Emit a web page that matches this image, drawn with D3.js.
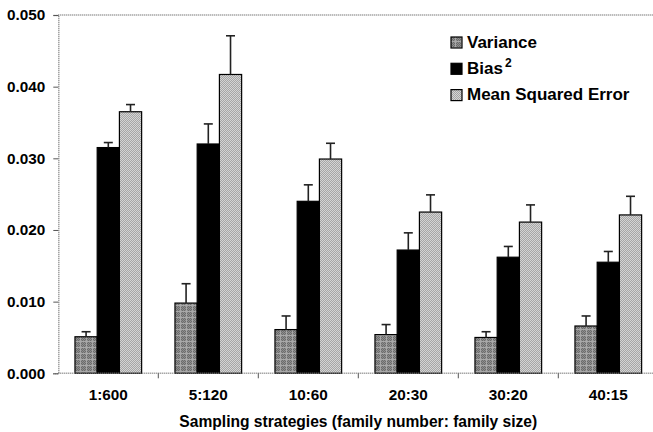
<!DOCTYPE html>
<html><head><meta charset="utf-8">
<script src="https://cdn.jsdelivr.net/npm/d3@7"></script>
<style>html,body{margin:0;padding:0;background:#fff;}svg{display:block;}</style>
</head><body>
<svg id="c" width="653" height="432"></svg>
<script>
const categories = ["1:600","5:120","10:60","20:30","30:20","40:15"];
const seriesNames = ["Variance","Bias2","Mean Squared Error"];
const variance    = [0.0051, 0.0098, 0.0061, 0.0054, 0.0050, 0.0066];
const varianceErr = [0.0058, 0.0125, 0.0080, 0.0068, 0.0058, 0.0080];
const bias2       = [0.0315, 0.0320, 0.0240, 0.0172, 0.0162, 0.0155];
const bias2Err    = [0.0322, 0.0348, 0.0263, 0.0196, 0.0177, 0.0170];
const mse         = [0.0365, 0.0417, 0.0299, 0.0225, 0.0211, 0.0221];
const mseErr      = [0.0375, 0.0471, 0.0321, 0.0249, 0.0235, 0.0247];
const yTicks = [0, 0.01, 0.02, 0.03, 0.04, 0.05];
const xTitle = "Sampling strategies (family number: family size)";

const svg = d3.select("#c");
const font = "'Liberation Sans', Arial, sans-serif";
const pLeft = 58.3, pTop = 15, pBottom = 373.3, pRight = 658.3;

const defs = svg.append("defs");
// Variance pattern: dark gray hatch with light grid
const pv = defs.append("pattern").attr("id","pv").attr("patternUnits","userSpaceOnUse").attr("width",6).attr("height",6);
pv.append("rect").attr("width",6).attr("height",6).attr("fill","#6a6a6a");
for (let i=0;i<6;i++){ for(let j=0;j<6;j++){ if((i+j)%2===0) pv.append("rect").attr("x",i).attr("y",j).attr("width",1).attr("height",1).attr("fill","#909090"); } }
pv.append("rect").attr("x",0).attr("y",5).attr("width",6).attr("height",1).attr("fill","#a8a8a8");
pv.append("rect").attr("x",5).attr("y",0).attr("width",1).attr("height",6).attr("fill","#a8a8a8");
// MSE pattern: light checker
const pm = defs.append("pattern").attr("id","pm").attr("patternUnits","userSpaceOnUse").attr("width",2).attr("height",2);
pm.append("rect").attr("width",2).attr("height",2).attr("fill","#d6d6d6");
pm.append("rect").attr("x",0).attr("y",0).attr("width",1).attr("height",1).attr("fill","#a4a4a4");
pm.append("rect").attr("x",1).attr("y",1).attr("width",1).attr("height",1).attr("fill","#a4a4a4");

const fills = ["url(#pv)", "#000", "url(#pm)"];
const vals = [variance, bias2, mse];
const errs = [varianceErr, bias2Err, mseErr];

const x0 = d3.scaleBand().domain(categories).range([pLeft, pRight]).paddingInner(1/3).paddingOuter(1/6);
const x1 = d3.scaleBand().domain(seriesNames).range([0, x0.bandwidth()]);
const y = d3.scaleLinear().domain([0, 0.05]).range([pBottom, pTop]);

// top border dotted
svg.append("line").attr("x1",pLeft).attr("x2",pRight).attr("y1",y(0.05)).attr("y2",y(0.05))
  .attr("stroke","#808080").attr("stroke-width",1.5).attr("stroke-dasharray","1 1");

// y axis
const yAxis = d3.axisLeft(y).tickValues(yTicks).tickFormat(d3.format(".3f")).tickSize(5).tickPadding(8);
const gy = svg.append("g").attr("transform",`translate(${pLeft},0)`).call(yAxis);
gy.select(".domain").attr("stroke","#808080").attr("stroke-width",1.5).attr("stroke-dasharray","1 1");
gy.selectAll(".tick line").attr("stroke","#555");
gy.selectAll(".tick text").attr("font-family",font).attr("font-weight","bold").attr("font-size",15.3).attr("fill","#000");

// bars
const groups = svg.append("g").selectAll("g").data(categories).join("g")
  .attr("transform", c => `translate(${x0(c)},0)`);
seriesNames.forEach((s, si) => {
  groups.append("rect")
    .attr("x", x1(s)).attr("width", x1.bandwidth())
    .attr("y", (c, i) => y(vals[si][i])).attr("height", (c, i) => y(0) - y(vals[si][i]))
    .attr("fill", fills[si]).attr("stroke", "#000").attr("stroke-width", 1.2);
});
// error bars
seriesNames.forEach((s, si) => {
  const cx = x1(s) + x1.bandwidth()/2;
  groups.append("line").attr("x1", cx).attr("x2", cx)
    .attr("y1", (c,i) => y(vals[si][i])).attr("y2", (c,i) => y(errs[si][i]))
    .attr("stroke","#222").attr("stroke-width",1.6);
  groups.append("line").attr("x1", cx-4.5).attr("x2", cx+4.5)
    .attr("y1", (c,i) => y(errs[si][i])).attr("y2", (c,i) => y(errs[si][i]))
    .attr("stroke","#222").attr("stroke-width",1.6);
});

// x axis
svg.append("line").attr("x1",pLeft).attr("x2",pRight).attr("y1",y(0)).attr("y2",y(0))
  .attr("stroke","#808080").attr("stroke-width",1.5).attr("stroke-dasharray","1 1");
const step = x0.step();
categories.forEach((c,i) => {
  const bx = x0(c) + x0.bandwidth() + step*x0.paddingInner()/2;
  svg.append("line").attr("x1",bx).attr("x2",bx).attr("y1",y(0)).attr("y2",y(0)+5).attr("stroke","#555");
});
svg.append("g").selectAll("text").data(categories).join("text")
  .attr("x", c => x0(c) + x0.bandwidth()/2).attr("y", 400)
  .attr("text-anchor","middle").attr("font-family",font).attr("font-weight","bold").attr("font-size",15.3)
  .text(c => c);
svg.append("text").attr("x",(pLeft+pRight)/2).attr("y",427).attr("text-anchor","middle")
  .attr("font-family",font).attr("font-weight","bold").attr("font-size",15.6).text(xTitle);

// legend
const lg = svg.append("g");
const labels = ["Variance","Bias","Mean Squared Error"];
labels.forEach((l, i) => {
  const by = 47.5 + i*26.3;
  lg.append("rect").attr("x",451).attr("y",by-10.5).attr("width",11).attr("height",11)
    .attr("fill",fills[i]).attr("stroke","#000").attr("stroke-width",1.2);
  const t = lg.append("text").attr("x",467).attr("y",by).attr("font-family",font).attr("font-weight","bold").attr("font-size",17).text(l);
  if (i===1) t.append("tspan").attr("dx",2).attr("dy",-7).attr("font-size",12).text("2");
});
</script>
</body></html>
